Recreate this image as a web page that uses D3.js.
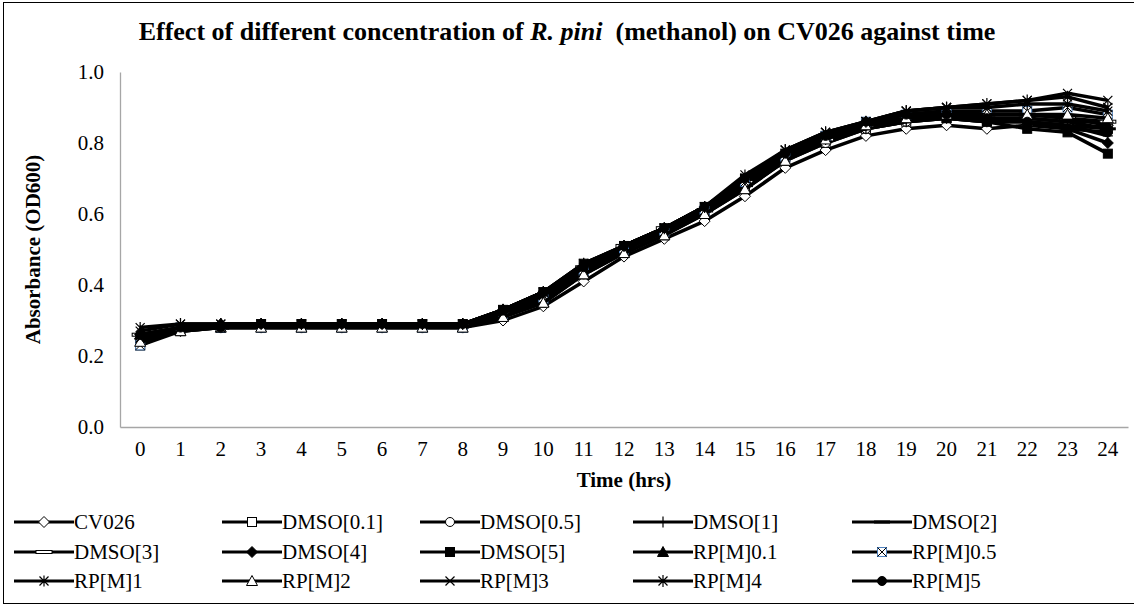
<!DOCTYPE html>
<html>
<head>
<meta charset="utf-8">
<script src="https://cdn.jsdelivr.net/npm/d3@7"></script>
<style>
  body { margin: 0; background: #fff; }
</style>
</head>
<body>
<svg id="chart" width="1134" height="608" style="font-family: 'Liberation Serif', 'Times New Roman', serif;"></svg>
<script>
var hours = d3.range(0, 25);
var yTicks = [0, 0.2, 0.4, 0.6, 0.8, 1.0];

var seriesNames = ["CV026", "DMSO[0.1]", "DMSO[0.5]", "DMSO[1]", "DMSO[2]",
    "DMSO[3]", "DMSO[4]", "DMSO[5]", "RP[M]0.1", "RP[M]0.5",
    "RP[M]1", "RP[M]2", "RP[M]3", "RP[M]4", "RP[M]5"];

var cv026    = [0.25,0.27,0.28,0.28,0.28,0.28,0.28,0.28,0.28,0.30,0.34,0.41,0.48,0.53,0.58,0.65,0.73,0.78,0.82,0.84,0.85,0.84,0.85,0.84,0.85];
var dmso01   = [0.23,0.28,0.28,0.28,0.28,0.28,0.28,0.28,0.28,0.31,0.35,0.43,0.49,0.54,0.60,0.67,0.75,0.80,0.84,0.86,0.87,0.86,0.86,0.85,0.84];
var dmso05   = [0.24,0.28,0.28,0.28,0.28,0.28,0.28,0.28,0.28,0.31,0.36,0.43,0.50,0.55,0.60,0.68,0.75,0.80,0.84,0.86,0.87,0.87,0.87,0.86,0.86];
var dmso1    = [0.25,0.28,0.28,0.29,0.29,0.29,0.29,0.29,0.29,0.32,0.37,0.44,0.50,0.55,0.61,0.68,0.76,0.81,0.84,0.86,0.87,0.86,0.86,0.85,0.82];
var dmso2    = [0.26,0.28,0.28,0.29,0.29,0.28,0.29,0.29,0.29,0.32,0.37,0.44,0.50,0.55,0.61,0.68,0.76,0.81,0.85,0.87,0.88,0.87,0.87,0.86,0.84];
var dmso3    = [0.26,0.28,0.28,0.29,0.29,0.29,0.29,0.29,0.29,0.32,0.37,0.45,0.51,0.56,0.61,0.69,0.76,0.81,0.85,0.87,0.88,0.88,0.88,0.87,0.86];
var dmso4    = [0.26,0.28,0.29,0.29,0.29,0.29,0.29,0.29,0.29,0.33,0.38,0.45,0.51,0.56,0.62,0.69,0.77,0.82,0.85,0.87,0.88,0.87,0.86,0.84,0.80];
var dmso5    = [0.23,0.27,0.28,0.29,0.29,0.29,0.29,0.29,0.29,0.33,0.38,0.46,0.51,0.56,0.62,0.70,0.77,0.82,0.85,0.87,0.87,0.86,0.84,0.83,0.77];
var rpm01    = [0.26,0.28,0.29,0.29,0.29,0.29,0.29,0.29,0.29,0.33,0.38,0.45,0.51,0.56,0.62,0.70,0.77,0.82,0.86,0.88,0.89,0.88,0.88,0.87,0.85];
var rpm05    = [0.23,0.28,0.28,0.28,0.28,0.28,0.28,0.28,0.28,0.31,0.36,0.44,0.50,0.55,0.61,0.69,0.76,0.82,0.86,0.88,0.89,0.89,0.89,0.90,0.88];
var rpm1     = [0.28,0.29,0.29,0.29,0.29,0.29,0.29,0.29,0.29,0.33,0.38,0.46,0.51,0.56,0.62,0.71,0.78,0.83,0.86,0.89,0.90,0.90,0.91,0.91,0.89];
var rpm2     = [0.24,0.27,0.28,0.28,0.28,0.28,0.28,0.28,0.28,0.31,0.35,0.43,0.49,0.54,0.60,0.67,0.75,0.81,0.85,0.87,0.88,0.88,0.88,0.88,0.87];
var rpm3     = [0.25,0.28,0.28,0.29,0.29,0.29,0.29,0.29,0.29,0.32,0.37,0.45,0.51,0.56,0.62,0.70,0.78,0.83,0.86,0.89,0.90,0.91,0.92,0.94,0.92];
var rpm4     = [0.27,0.29,0.29,0.29,0.29,0.29,0.29,0.29,0.29,0.33,0.38,0.46,0.51,0.56,0.62,0.70,0.78,0.83,0.86,0.89,0.90,0.91,0.92,0.93,0.90];
var rpm5     = [0.26,0.28,0.28,0.29,0.29,0.29,0.29,0.29,0.29,0.33,0.38,0.45,0.51,0.56,0.62,0.70,0.77,0.82,0.86,0.88,0.88,0.87,0.86,0.84,0.83];

var seriesValues = [cv026, dmso01, dmso05, dmso1, dmso2, dmso3, dmso4, dmso5,
    rpm01, rpm05, rpm1, rpm2, rpm3, rpm4, rpm5];
var markerTypes = ["diamondOpen", "squareOpen", "circleOpen", "plus", "dash",
    "dashOpen", "diamond", "square", "triangle", "squareX",
    "starBar", "triangleOpen", "x", "asterisk", "circle"];

var FONT = "'Liberation Serif', 'Times New Roman', serif";
var svg = d3.select("#chart");

// borde del grafico
svg.append("rect")
    .attr("x", 3.5).attr("y", 2.5)
    .attr("width", 1140).attr("height", 601)
    .attr("fill", "none").attr("stroke", "#000").attr("stroke-width", 1);

var margin = {left: 120, right: 6, top: 72, bottom: 181};
var width = 1134 - margin.left - margin.right,
    height = 608 - margin.top - margin.bottom;

var x = d3.scaleBand().domain(hours).range([0, width]);
var y = d3.scaleLinear().domain([0, 1]).range([height, 0]);

var g = svg.append("g")
    .attr("transform", "translate(" + margin.left + "," + margin.top + ")");

// titulo
var title = svg.append("text")
    .attr("x", 567).attr("y", 40)
    .attr("text-anchor", "middle")
    .style("font-family", FONT)
    .style("font-size", "26px").style("font-weight", "bold");
title.append("tspan").text("Effect of different concentration of ");
title.append("tspan").style("font-style", "italic").text("R. pini");
title.append("tspan").attr("xml:space", "preserve").text("  (methanol) on CV026 against time");

// ejes
var yAxis = g.append("g").call(d3.axisLeft(y).tickValues(yTicks).tickSize(0).tickPadding(16).tickFormat(d3.format(".1f")));
var xAxis = g.append("g").attr("transform", "translate(0," + height + ")")
    .call(d3.axisBottom(x).tickSize(0).tickPadding(14));
[xAxis, yAxis].forEach(function (a) {
    a.attr("font-family", null);
    a.select(".domain").attr("stroke", "#a6a6a6").attr("stroke-width", 1.3);
    a.selectAll("text").style("font-family", FONT).style("font-size", "21px").attr("fill", "#000");
});

g.append("text")
    .attr("x", width / 2).attr("y", height + 60)
    .attr("text-anchor", "middle")
    .style("font-family", FONT)
    .style("font-size", "21px").style("font-weight", "bold")
    .text("Time (hrs)");

svg.append("text")
    .attr("transform", "translate(40," + (margin.top + height / 2) + ") rotate(-90)")
    .attr("text-anchor", "middle")
    .style("font-family", FONT)
    .style("font-size", "21px").style("font-weight", "bold")
    .text("Absorbance (OD600)");

// marcadores
function drawMarker(sel, type) {
    var s = 4.5;
    var black = "#000";
    if (type == "diamondOpen" || type == "diamond") {
        sel.append("path").attr("d", "M0,-5.5L5.5,0L0,5.5L-5.5,0Z")
            .attr("fill", type == "diamond" ? black : "#fff").attr("stroke", black).attr("stroke-width", 1);
    } else if (type == "squareOpen" || type == "square") {
        sel.append("rect").attr("x", -s).attr("y", -s).attr("width", 2 * s).attr("height", 2 * s)
            .attr("fill", type == "square" ? black : "#fff").attr("stroke", black).attr("stroke-width", 1);
    } else if (type == "circleOpen" || type == "circle") {
        sel.append("circle").attr("r", s)
            .attr("fill", type == "circle" ? black : "#fff").attr("stroke", black).attr("stroke-width", 1);
    } else if (type == "triangleOpen" || type == "triangle") {
        sel.append("path").attr("d", "M0,-5.5L5.5,4.5L-5.5,4.5Z")
            .attr("fill", type == "triangle" ? black : "#fff").attr("stroke", black).attr("stroke-width", 1);
    } else if (type == "plus") {
        sel.append("path").attr("d", "M-5,0H5M0,-5.5V5.5").attr("stroke", black).attr("stroke-width", 1.2);
    } else if (type == "dash") {
        sel.append("path").attr("d", "M-8,0H8").attr("stroke", black).attr("stroke-width", 3);
    } else if (type == "dashOpen") {
        sel.append("rect").attr("x", -8).attr("y", -1.5).attr("width", 16).attr("height", 3)
            .attr("fill", "#fff").attr("stroke", black).attr("stroke-width", 1);
    } else if (type == "squareX") {
        sel.append("rect").attr("x", -s).attr("y", -s).attr("width", 2 * s).attr("height", 2 * s)
            .attr("fill", "#fff").attr("stroke", "#4f81bd").attr("stroke-width", 1);
        sel.append("path").attr("d", "M-4.5,-4.5L4.5,4.5M4.5,-4.5L-4.5,4.5").attr("stroke", black).attr("stroke-width", 1);
    } else if (type == "starBar") {
        sel.append("path").attr("d", "M-4.5,-4.5L4.5,4.5M4.5,-4.5L-4.5,4.5M0,-5.5V5.5").attr("stroke", black).attr("stroke-width", 1.2);
    } else if (type == "x") {
        sel.append("path").attr("d", "M-4.5,-4.5L4.5,4.5M4.5,-4.5L-4.5,4.5").attr("stroke", black).attr("stroke-width", 1.2);
    } else if (type == "asterisk") {
        sel.append("path").attr("d", "M-4.5,-4.5L4.5,4.5M4.5,-4.5L-4.5,4.5M0,-6V6").attr("stroke", black).attr("stroke-width", 1.2);
    }
}

var line = d3.line()
    .x(function (d, i) { return x(hours[i]) + x.bandwidth() / 2; })
    .y(function (d) { return y(d); });

seriesValues.forEach(function (vals, k) {
    var sg = g.append("g").attr("class", "series");
    sg.append("path")
        .attr("d", line(vals))
        .attr("fill", "none").attr("stroke", "#000").attr("stroke-width", 3.5)
        .attr("stroke-linejoin", "round");
    vals.forEach(function (v, i) {
        var mk = sg.append("g")
            .attr("transform", "translate(" + (x(hours[i]) + x.bandwidth() / 2) + "," + y(v) + ")");
        drawMarker(mk, markerTypes[k]);
    });
});

// leyenda
var legendCols = [14, 222, 420, 633, 852];
var legendRows = [522, 552, 581];
seriesNames.forEach(function (name, k) {
    var lx = legendCols[k % 5], ly = legendRows[Math.floor(k / 5)];
    var lg = svg.append("g").attr("transform", "translate(" + lx + "," + ly + ")");
    lg.append("path").attr("d", "M0,0H60").attr("stroke", "#000").attr("stroke-width", 3);
    drawMarker(lg.append("g").attr("transform", "translate(30,0)"), markerTypes[k]);
    lg.append("text").attr("x", 60).attr("y", 7)
        .style("font-family", FONT).style("font-size", "21px").text(name);
});
</script>
</body>
</html>
